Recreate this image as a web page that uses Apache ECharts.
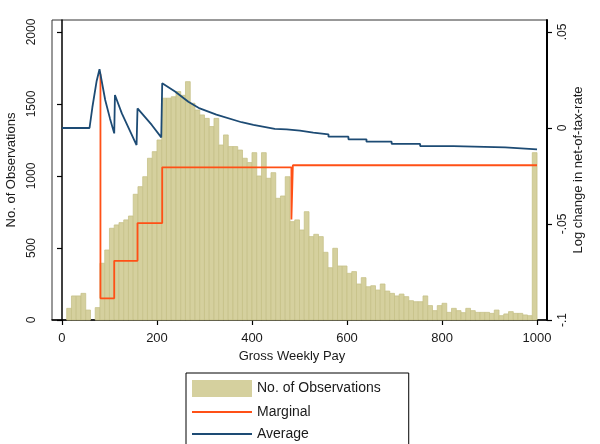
<!DOCTYPE html>
<html>
<head>
<meta charset="utf-8">
<script src="https://cdn.jsdelivr.net/npm/echarts@6/dist/echarts.min.js"></script>
<style>
html,body{margin:0;padding:0;background:#fff;}
#chart{width:600px;height:444px;}
</style>
</head>
<body>
<div id="chart"></div>
<script>
// Histogram bins (left edge of each 10-wide bin of Gross Weekly Pay)
const binStart = [0,10,20,30,40,50,60,70,80,90,100,110,120,130,140,150,160,170,180,190,
  200,210,220,230,240,250,260,270,280,290,300,310,320,330,340,350,360,370,380,390,
  400,410,420,430,440,450,460,470,480,490,500,510,520,530,540,550,560,570,580,590,
  600,610,620,630,640,650,660,670,680,690,700,710,720,730,740,750,760,770,780,790,
  800,810,820,830,840,850,860,870,880,890,900,910,920,930,940,950,960,970,980,990];
const binWidth = 10;
// No. of Observations per bin
const counts = [0,81,167,167,185,69,0,86,394,486,637,660,676,695,722,873,926,995,1123,1169,
  1250,1540,1540,1550,1586,1560,1655,1505,1458,1424,1400,1343,1400,1215,1285,1204,1204,1180,1123,1093,
  1162,1000,1162,984,1023,845,861,995,683,695,625,752,579,595,579,470,363,498,375,375,
  324,336,250,294,231,238,208,250,201,185,167,180,162,134,127,127,167,100,65,100,
  116,53,81,65,51,81,65,53,53,53,46,69,30,42,58,46,46,35,30,1162];

// Marginal log change in net-of-tax rate
const margX = [81, 81, 110, 110, 159, 159, 211, 211, 483, 483, 486, 486, 1000];
const margY = [0.028, -0.0887, -0.0887, -0.0692, -0.0692, -0.0495, -0.0495, -0.0205, -0.0205, -0.0476, -0.0476, -0.0194, -0.0194];

// Average log change in net-of-tax rate
const avgX = [0, 58, 64, 73, 79, 81, 91, 101, 110, 111.5, 126, 157, 159, 189, 209, 211, 238, 266, 290, 325, 378, 403, 448,
  473, 473, 501, 501, 529, 529, 561, 561, 603, 603, 641, 641, 694, 694, 754, 754, 824, 824, 933, 933, 1000];
const avgY = [0, 0, 0.0108, 0.0245, 0.0306, 0.030, 0.0146, 0.005, -0.0028, 0.0172, 0.0076, -0.0089, 0.0102, 0.0016, -0.0049, 0.0233, 0.019, 0.0137, 0.0102, 0.007, 0.0030, 0.0016, -0.0005,
  -0.0007, -0.0014, -0.0014, -0.0024, -0.0024, -0.0033, -0.0033, -0.0045, -0.0045, -0.0059, -0.0059, -0.0071, -0.0071, -0.0083, -0.0083, -0.0094, -0.0094, -0.0101, -0.0101, -0.0111, -0.0111];

// Tick labels
const xTicks = [0, 200, 400, 600, 800, 1000];
const xTickLabels = ['0', '200', '400', '600', '800', '1000'];
const leftTicks = [0, 500, 1000, 1500, 2000];
const leftTickLabels = ['0', '500', '1000', '1500', '2000'];
const rightTicks = [-0.1, -0.05, 0, 0.05];
const rightTickLabels = ['-.1', '-.05', '0', '.05'];

const seriesNames = ['No. of Observations', 'Marginal', 'Average'];

const barFill = '#d5d09e';
const barStroke = '#c7c189';
const orange = '#ff5016';
const navy = '#1d4b74';
const font = 'Liberation Sans, Arial, sans-serif';
const textColor = '#1a1a1a';

function labelFrom(ticks, labels) {
  return function (v) {
    const i = ticks.findIndex(t => Math.abs(t - v) < 1e-9);
    return i >= 0 ? labels[i] : '';
  };
}

const histData = binStart.map((s, i) => [s, s + binWidth, counts[i]]);
const margData = margX.map((x, i) => [x, margY[i]]);
const avgData = avgX.map((x, i) => [x, avgY[i]]);

const lineIcon = 'path://M0,0H60V2H0Z';

const chart = echarts.init(document.getElementById('chart'), null, {renderer: 'canvas'});
chart.setOption({
  animation: false,
  backgroundColor: '#fff',
  textStyle: {fontFamily: font},
  grid: {left: 52, right: 53, top: 20, bottom: 124, show: true, borderColor: '#333', borderWidth: 1, containLabel: false, outerBoundsMode: 'none'},
  legend: {
    orient: 'vertical',
    left: 186, top: 373, height: 140,
    padding: [7, 28, 20, 6],
    itemWidth: 60, itemHeight: 17, itemGap: 8,
    itemTextGap: 8,
    borderColor: '#000', borderWidth: 1,
    textStyle: {fontSize: 14, color: textColor, fontFamily: font},
    data: [
      {name: seriesNames[0], icon: 'rect', itemStyle: {color: barFill}},
      {name: seriesNames[1], icon: lineIcon, itemStyle: {color: orange}},
      {name: seriesNames[2], icon: lineIcon, itemStyle: {color: navy}}
    ]
  },
  xAxis: {
    type: 'value', min: -21, max: 1021,
    splitLine: {show: false},
    axisLine: {show: true, onZero: false, lineStyle: {color: '#000', width: 1.5}},
    axisTick: {show: true, length: 5, customValues: xTicks, lineStyle: {color: '#000', width: 1.2}},
    axisLabel: {customValues: xTicks, fontSize: 13, color: textColor, margin: 12, fontFamily: font,
      formatter: labelFrom(xTicks, xTickLabels)},
    name: 'Gross Weekly Pay', nameLocation: 'middle', nameGap: 27,
    nameTextStyle: {fontSize: 13, color: textColor, fontFamily: font, padding: [0, 15, 0, 0]}
  },
  yAxis: [{
    type: 'value', position: 'left', min: 0, max: 2083,
    splitLine: {show: false},
    axisLine: {show: true, lineStyle: {color: '#000', width: 1.5}},
    axisTick: {show: true, length: 5, customValues: leftTicks, lineStyle: {color: '#000', width: 1.2}},
    axisLabel: {customValues: leftTicks, rotate: 90, fontSize: 12, color: textColor, margin: 14, fontFamily: font,
      formatter: labelFrom(leftTicks, leftTickLabels)},
    name: 'No. of Observations', nameLocation: 'middle', nameRotate: 90, nameGap: 34, nameMoveOverlap: false,
    nameTextStyle: {fontSize: 13, color: textColor, fontFamily: font}
  }, {
    type: 'value', position: 'right', min: -0.1, max: 0.05625,
    splitLine: {show: false},
    axisLine: {show: true, lineStyle: {color: '#000', width: 2}},
    axisTick: {show: true, length: 5, customValues: rightTicks, lineStyle: {color: '#000', width: 1.2}},
    axisLabel: {customValues: rightTicks, rotate: 90, fontSize: 12, color: textColor, margin: 10, fontFamily: font,
      formatter: labelFrom(rightTicks, rightTickLabels)},
    name: 'Log change in net-of-tax-rate', nameLocation: 'middle', nameRotate: 90, nameGap: 25, nameMoveOverlap: false,
    nameTextStyle: {fontSize: 13, color: textColor, fontFamily: font}
  }],
  series: [{
    name: seriesNames[0],
    type: 'custom',
    xAxisIndex: 0, yAxisIndex: 0,
    itemStyle: {color: barFill},
    encode: {x: [0, 1], y: 2},
    data: histData,
    z: 1,
    renderItem: function (params, api) {
      const c = api.value(2);
      if (!c) return null;
      const p0 = api.coord([api.value(0), c]);
      const p1 = api.coord([api.value(1), 0]);
      return {
        type: 'rect',
        shape: {x: p0[0], y: p0[1], width: p1[0] - p0[0], height: p1[1] - p0[1]},
        style: {fill: barFill, stroke: barStroke, lineWidth: 0.8}
      };
    }
  }, {
    name: seriesNames[1],
    type: 'line', xAxisIndex: 0, yAxisIndex: 1,
    data: margData, symbol: 'none', showSymbol: false,
    lineStyle: {color: orange, width: 1.8},
    itemStyle: {color: orange},
    z: 3
  }, {
    name: seriesNames[2],
    type: 'line', xAxisIndex: 0, yAxisIndex: 1,
    data: avgData, symbol: 'none', showSymbol: false,
    lineStyle: {color: navy, width: 1.8},
    itemStyle: {color: navy},
    z: 4
  }]
});
</script>
</body>
</html>
